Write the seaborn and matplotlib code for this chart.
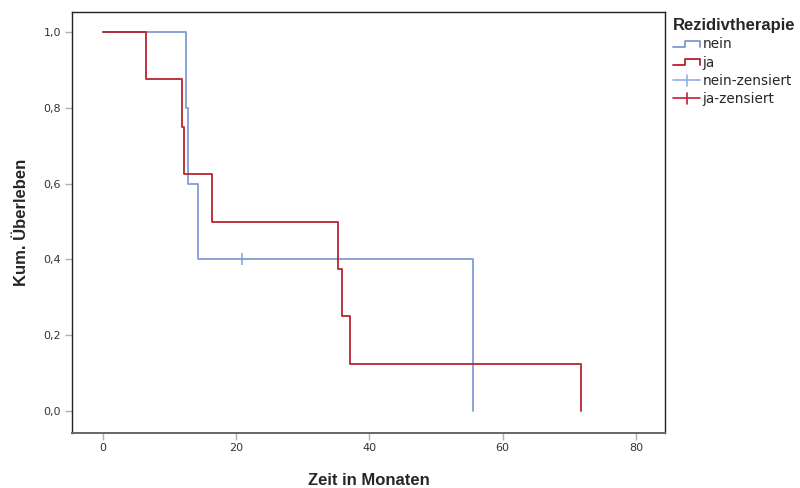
import matplotlib
matplotlib.use("Agg")
import matplotlib.pyplot as plt
import seaborn as sns
import pandas as pd
from matplotlib.lines import Line2D
from matplotlib.legend_handler import HandlerBase

# ---- data ----
nein_time = [0, 12.4, 12.8, 14.3, 55.5]
nein_surv = [1.0, 0.8, 0.6, 0.4, 0.0]

ja_time = [0, 6.4, 11.9, 12.1, 16.3, 35.3, 35.9, 37.1, 71.8]
ja_surv = [1.0, 0.875, 0.75, 0.625, 0.5, 0.375, 0.25, 0.125, 0.0]

nein_cens_time = [20.8]
nein_cens_surv = [0.4]

x_ticks = [0, 20, 40, 60, 80]
y_ticks = [0.0, 0.2, 0.4, 0.6, 0.8, 1.0]
y_ticklabels = ["0,0", "0,2", "0,4", "0,6", "0,8", "1,0"]

c_nein = "#7f99d6"
c_ja = "#b5202b"
c_nein_cens = "#8fb0ea"
c_ja_cens = "#c0203a"

df = pd.concat([
    pd.DataFrame({"t": nein_time, "s": nein_surv, "g": "nein"}),
    pd.DataFrame({"t": ja_time, "s": ja_surv, "g": "ja"}),
], ignore_index=True)
cens = pd.DataFrame({"t": nein_cens_time, "s": nein_cens_surv, "g": "nein-zensiert"})

sns.set_style("white")
plt.rcParams["font.family"] = ["DejaVu Sans"]

fig = plt.figure(figsize=(8, 4.88), dpi=100)
ax = fig.add_axes([0.09, 0.1127, 0.741, 0.8627])

sns.lineplot(data=df, x="t", y="s", hue="g", palette={"nein": c_nein, "ja": c_ja},
             drawstyle="steps-post", estimator=None, sort=False, ax=ax,
             linewidth=1.4, legend=False)
for l in ax.lines:
    l.set_alpha(0.9)

sns.scatterplot(data=cens, x="t", y="s", marker="|", s=80, color=c_nein_cens,
                linewidth=1.3, ax=ax, legend=False)

ax.set_xlim(-4.65, 84.35)
ax.set_ylim(-0.058, 1.053)
ax.set_xticks(x_ticks)
ax.set_yticks(y_ticks)
ax.set_yticklabels(y_ticklabels)
ax.tick_params(axis="both", which="both", length=5, width=1, color="#b0b0b0",
               labelsize=8, labelcolor="#333333", direction="out",
               bottom=True, left=True)
ax.tick_params(axis="x", pad=2)
ax.tick_params(axis="y", pad=3)
for side in ["left", "right", "top"]:
    ax.spines[side].set_color("#222222")
    ax.spines[side].set_linewidth(1.0)
ax.spines["bottom"].set_color("#666666")
ax.spines["bottom"].set_linewidth(1.4)

lab = dict(family=["Liberation Sans", "DejaVu Sans"], fontweight="bold", fontsize=12)
ax.set_xlabel("Zeit in Monaten", **lab)
ax.set_ylabel("Kum. Überleben", **lab)
ax.xaxis.set_label_coords(0.5, -0.095)
ax.yaxis.set_label_coords(-0.072, 0.5)


class StepHandler(HandlerBase):
    def create_artists(self, legend, orig, xd, yd, width, height, fontsize, trans):
        x0, x1 = -xd, -xd + width
        ylo, yhi = -yd + height * 0.15, -yd + height * 0.8
        xm = x0 + width * 0.45
        ln = Line2D([x0, xm, xm, x1, x1], [ylo, ylo, yhi, yhi, ylo],
                    color=orig.get_color(), lw=1.3, transform=trans)
        return [ln]


class CrossHandler(HandlerBase):
    def create_artists(self, legend, orig, xd, yd, width, height, fontsize, trans):
        x0, x1 = -xd, -xd + width
        ym = -yd + height * 0.45
        xm = x0 + width * 0.5
        h = Line2D([x0, x1], [ym, ym], color=orig.get_color(), lw=1.2, transform=trans)
        v = Line2D([xm, xm], [ym - height * 0.6, ym + height * 0.6],
                   color=orig.get_color(), lw=1.2, transform=trans)
        return [h, v]


h1 = Line2D([], [], color=c_nein)
h2 = Line2D([], [], color=c_ja)
h3 = Line2D([], [], color=c_nein_cens)
h4 = Line2D([], [], color=c_ja_cens)
leg = fig.legend([h1, h2, h3, h4], ["nein", "ja", "nein-zensiert", "ja-zensiert"],
                 handler_map={h1: StepHandler(), h2: StepHandler(),
                              h3: CrossHandler(), h4: CrossHandler()},
                 loc="upper left", bbox_to_anchor=(0.838, 0.968), frameon=False,
                 title="Rezidivtherapie", alignment="left",
                 fontsize=9.8, handlelength=2.0, handletextpad=0.15,
                 labelspacing=0.3, borderaxespad=0, borderpad=0.2)
leg.get_title().set_fontweight("bold")
leg.get_title().set_fontsize(12)
leg.get_title().set_family(["Liberation Sans", "DejaVu Sans"])

fig.savefig("out.png", dpi=100)
